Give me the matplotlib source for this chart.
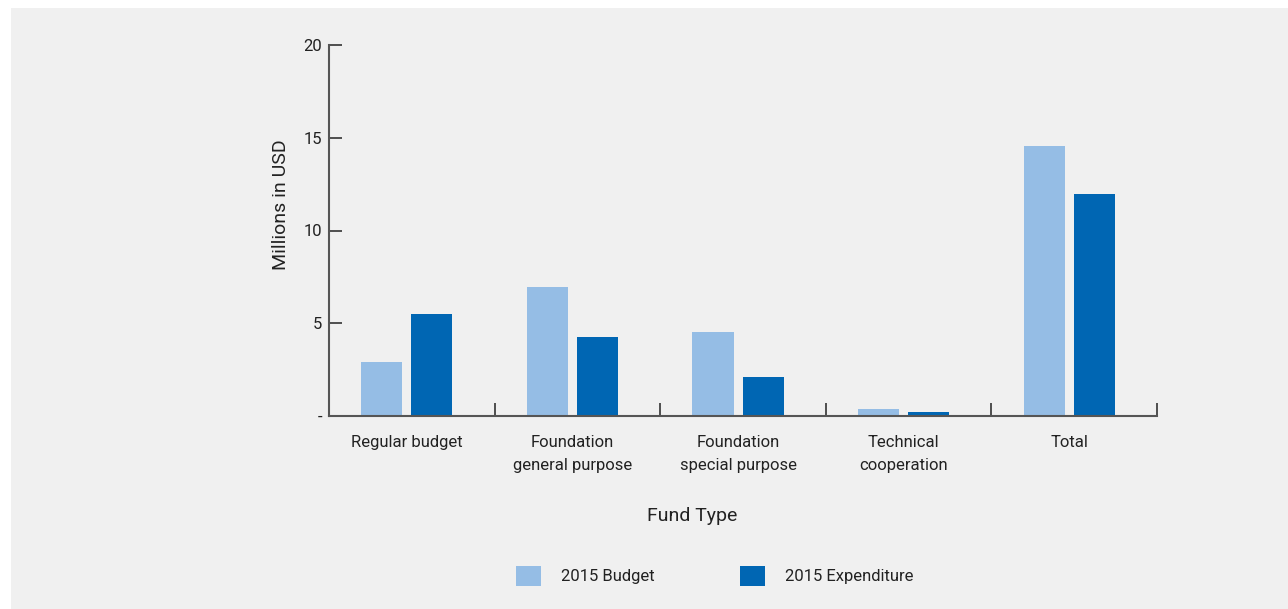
import matplotlib
matplotlib.use("Agg")
import matplotlib.pyplot as plt
from matplotlib import font_manager
from matplotlib.patches import Rectangle, Patch
import numpy as np

categories = ["Regular budget", "Foundation\ngeneral purpose", "Foundation\nspecial purpose",
              "Technical\ncooperation", "Total"]
budget_2015 = [2.9, 6.95, 4.53, 0.38, 14.56]
expenditure_2015 = [5.5, 4.26, 2.1, 0.2, 11.97]
series_names = ["2015 Budget", "2015 Expenditure"]
y_ticks = [0, 5, 10, 15, 20]
y_tick_labels = ["-", "5", "10", "15", "20"]

names = {f.name for f in font_manager.fontManager.ttflist}
fam = "Liberation Sans Narrow" if "Liberation Sans Narrow" in names else "Roboto"
plt.rcParams["font.family"] = [fam, "DejaVu Sans"]

W, H = 1288, 609
fig = plt.figure(figsize=(W / 100, H / 100), dpi=100)
fig.patch.set_facecolor("white")
fig.patches.append(Rectangle((11 / W, 0), 1 - 11 / W, 1 - 8 / H, transform=fig.transFigure,
                             facecolor="#f0f0f0", edgecolor="none", zorder=-10))

ax = fig.add_axes([329 / W, 1 - 416 / H, (1157 - 329) / W, (416 - 45) / H])
ax.set_facecolor("none")
ax.set_zorder(5)

light = "#95bde5"
dark = "#0066b3"
text_c = "#222222"
x = np.arange(len(categories)) - 0.03
bw = 0.248
gap = 0.054
ax.bar(x - (bw + gap) / 2, budget_2015, bw, color=light, label=series_names[0], zorder=2)
ax.bar(x + (bw + gap) / 2, expenditure_2015, bw, color=dark, label=series_names[1], zorder=2)

ax.set_xlim(-0.5, len(categories) - 0.5)
ax.set_ylim(0, 20)

for s in ["top", "right"]:
    ax.spines[s].set_visible(False)
for s in ["left", "bottom"]:
    ax.spines[s].set_color("#555555")
    ax.spines[s].set_linewidth(1.5)

fs = 12
ax.set_yticks(y_ticks)
ax.set_yticklabels(y_tick_labels)
ax.tick_params(axis="y", direction="in", length=9, width=1.2, color="#333333",
               labelsize=fs, labelcolor=text_c, pad=5)

ax.set_xticks(x)
ax.set_xticklabels(categories)
ax.tick_params(axis="x", which="major", length=0, labelsize=fs, labelcolor=text_c, pad=14)
ax.set_xticks(np.arange(len(categories) + 1) - 0.5, minor=True)
ax.tick_params(axis="x", which="minor", direction="in", length=9.5, width=1.2, color="#333333")
for lab in ax.get_xticklabels():
    lab.set_linespacing(1.6)
    lab.set_verticalalignment("top")

ax.set_xlabel("Fund Type", fontsize=14, color=text_c)
ax.set_ylabel("Millions in USD", fontsize=14, color=text_c)
ax.yaxis.set_label_coords(-0.047, 0.569)
ax.xaxis.set_label_coords(0.439, -0.245)

handles = [Patch(facecolor=light, edgecolor="none"), Patch(facecolor=dark, edgecolor="none")]
fig.legend(handles, series_names, loc="center", bbox_to_anchor=(715 / W, 1 - 576 / H),
           ncol=2, frameon=False, fontsize=fs, handlelength=1.5, handleheight=1.5,
           handletextpad=1.2, columnspacing=5.15, labelcolor=text_c)

fig.savefig("out.png", dpi=100, facecolor=fig.get_facecolor())
